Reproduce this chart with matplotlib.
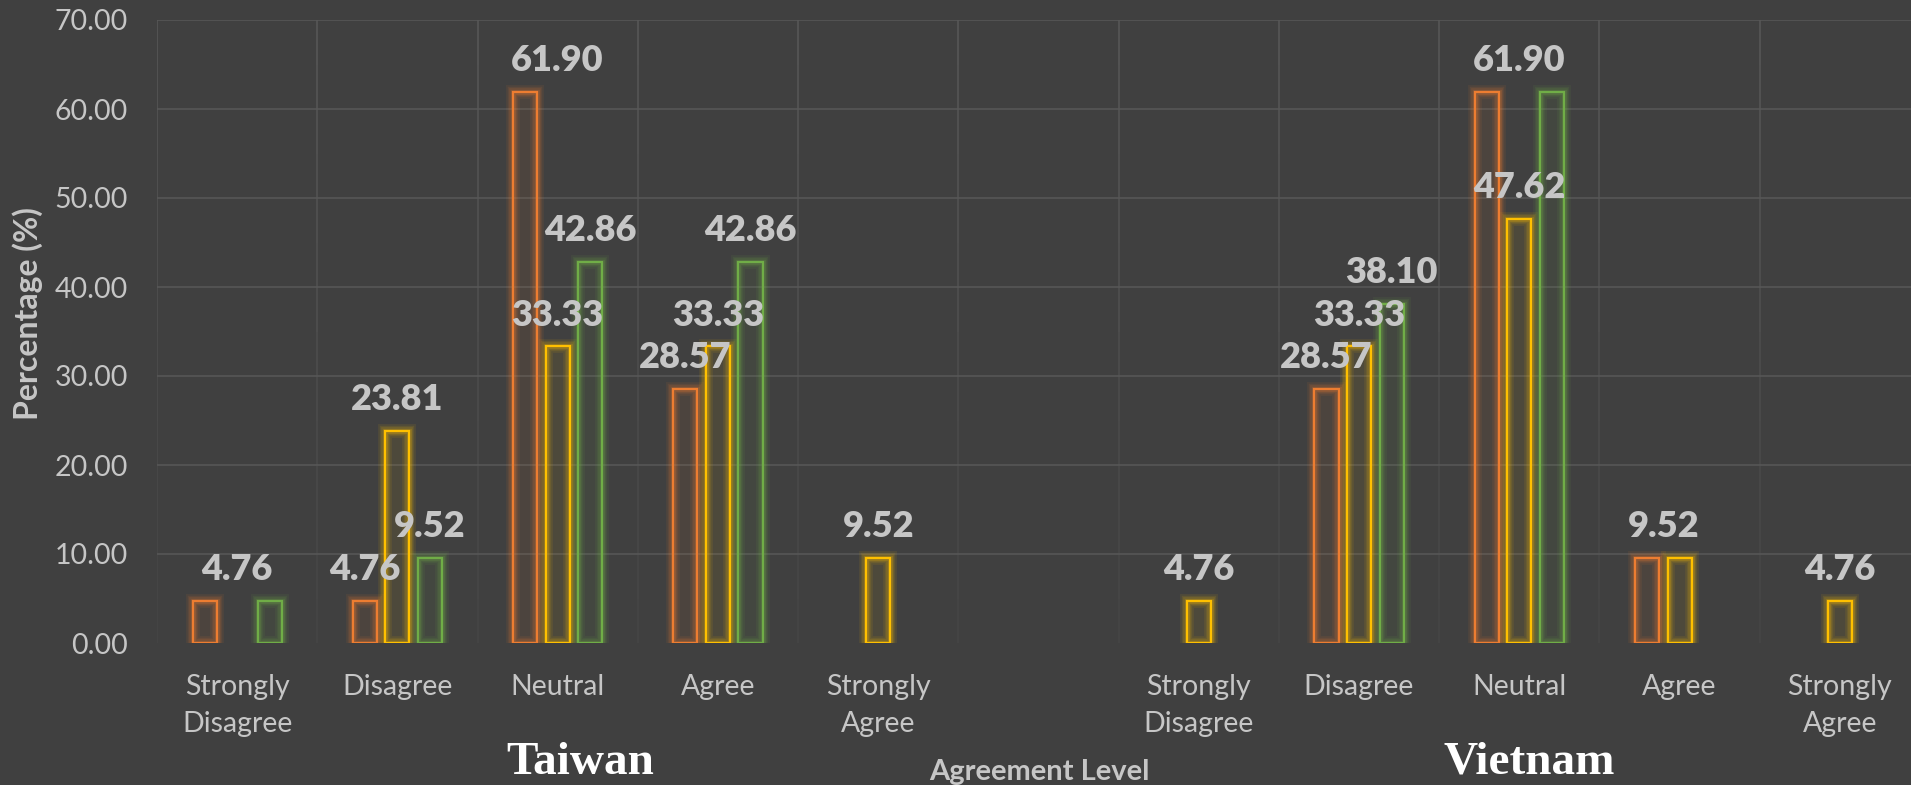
import matplotlib
matplotlib.use("Agg")
import matplotlib.pyplot as plt
import numpy as np

# ---------------- data ----------------
categories = ["Strongly\nDisagree", "Disagree", "Neutral", "Agree", "Strongly\nAgree", "",
              "Strongly\nDisagree", "Disagree", "Neutral", "Agree", "Strongly\nAgree"]
series_orange = [4.76, 4.76, 61.90, 28.57, 0, 0, 0, 28.57, 61.90, 9.52, 0]
series_yellow = [0, 23.81, 33.33, 33.33, 9.52, 0, 4.76, 33.33, 47.62, 9.52, 4.76]
series_green = [4.76, 9.52, 42.86, 42.86, 0, 0, 0, 38.10, 61.90, 0, 0]
y_ticks = [0, 10, 20, 30, 40, 50, 60, 70]
group_names = ["Taiwan", "Vietnam"]
x_title = "Agreement Level"
y_title = "Percentage (%)"

# ---------------- style ----------------
BG = "#404040"
GRID = "#585858"
TXT = "#c6c6c6"
colors = ["#ED7D31", "#FFC000", "#70AD47"]
plt.rcParams["font.family"] = ["Lato", "DejaVu Sans"]

W, H = 1911, 785
fig = plt.figure(figsize=(W / 100, H / 100), dpi=100, facecolor=BG)
ax_left, ax_right, ax_top, ax_bottom = 157, 1920, 20, 643
ax = fig.add_axes([ax_left / W, 1 - ax_bottom / H, (ax_right - ax_left) / W, (ax_bottom - ax_top) / H])
ax.set_facecolor(BG)

n = len(categories)
x = np.arange(n)
pitch = 0.203
bw = 0.15
all_series = [series_orange, series_yellow, series_green]

# grid
ax.set_xlim(-0.5, n - 0.5)
ax.set_ylim(0, 70)
for yv in y_ticks[1:]:
    ax.axhline(yv, color=GRID, lw=1.1, zorder=0)
for xv in np.arange(-0.5, n, 1.0):
    # fading vertical grid lines
    segs = 14
    edges = np.linspace(0, 70, segs + 1)
    for k in range(segs):
        a = 0.25 + 0.75 * (k / (segs - 1))
        ax.plot([xv, xv], [edges[k], edges[k + 1]], color=GRID, lw=1.1, alpha=a,
                zorder=0, solid_capstyle="butt")

# bars with glow
for si, (vals, col) in enumerate(zip(all_series, colors)):
    vals = np.asarray(vals, dtype=float)
    mask = vals > 0
    xs = x[mask] + (si - 1) * pitch
    hs = vals[mask]
    for lw, a in [(10, 0.08), (7.5, 0.10), (5.5, 0.13), (3.5, 0.18)]:
        ax.bar(xs, hs, width=bw, facecolor="none", edgecolor=col, linewidth=lw,
               alpha=a, zorder=2, joinstyle="miter")
    ax.bar(xs, hs, width=bw, facecolor=col, alpha=0.07, edgecolor="none", zorder=2)
    ax.bar(xs, hs, width=bw, facecolor="none", edgecolor=col, linewidth=1.6, zorder=3,
           joinstyle="miter")

# data labels (identical values in one category share one label)
label_nudge = {(0, 2): 1.0}  # (series, category) -> shift in bar pitches
for ci in range(n):
    seen = {}
    for si, vals in enumerate(all_series):
        v = vals[ci]
        if v <= 0:
            continue
        xp = ci + (si - 1) * pitch + label_nudge.get((si, ci), 0) * pitch
        seen.setdefault(v, []).append(xp)
    for v, xps in seen.items():
        ax.annotate(f"{v:.2f}", xy=(np.mean(xps), v), xytext=(0, 15), textcoords="offset points",
                    ha="center", va="baseline", fontsize=26, fontweight="heavy", color=TXT,
                    zorder=5)

# axes & ticks
ax.set_xticks(x)
ax.set_xticklabels(categories, linespacing=1.55)
ax.set_yticks(y_ticks)
ax.set_yticklabels([f"{t:.2f}" for t in y_ticks])
ax.tick_params(axis="both", length=0, labelsize=20.5, labelcolor=TXT)
ax.tick_params(axis="x", pad=22)
ax.tick_params(axis="y", pad=21)
for s in ax.spines.values():
    s.set_visible(False)

# titles
fig.text(28 / W, 1 - 314 / H, y_title, rotation=90, ha="center", va="center",
         fontsize=23, fontweight="bold", color=TXT)
fig.text(1039 / W, 1 - 780 / H, x_title, ha="center", va="baseline",
         fontsize=21, fontweight="bold", color=TXT)
for name, px in zip(group_names, [580, 1529]):
    fig.text(px / W, 1 - 774 / H, name, ha="center", va="baseline", fontsize=34,
             fontweight="bold", color="white", family=["Liberation Serif", "DejaVu Serif"])

fig.savefig("out.png", dpi=100, facecolor=BG)
